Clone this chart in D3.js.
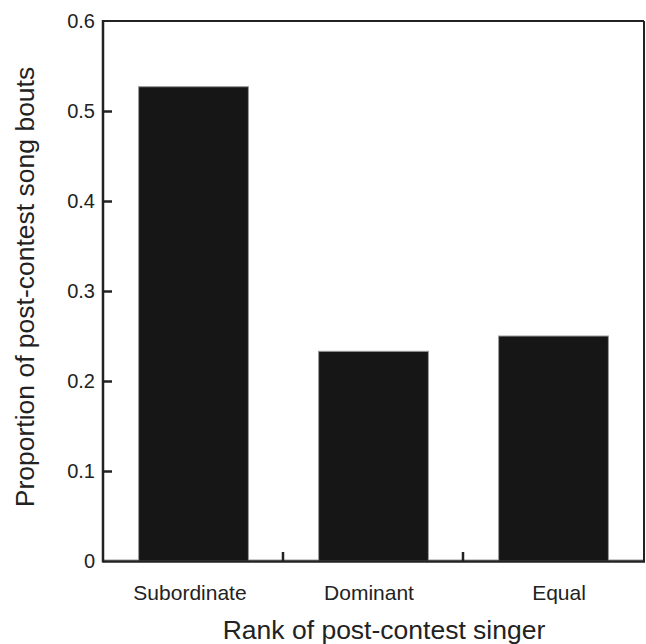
<!DOCTYPE html>
<html lang="en">
	<head>
		<meta charset="utf-8">
		<title>Post-contest song bouts</title>
		<script src="https://d3js.org/d3.v7.min.js"></script>
		<style>
			body { margin: 0; background: #fff; }
			text { font-family: "Liberation Sans", Arial, sans-serif; fill: #222; }
		</style>
	</head>
	<body>
		<script type="text/javascript">

			// data
			var categories = ["Subordinate", "Dominant", "Equal"];
			var proportions = [0.527, 0.233, 0.25];
			var yTicks = [0, 0.1, 0.2, 0.3, 0.4, 0.5, 0.6];

			var w = 646;
			var h = 644;
			// plot area edges (note: "top" is reserved on window)
			var pLeft = 103, pRight = 643, pTop = 21, pBottom = 561;

			var svg = d3.select("body").append("svg").attr("width", w).attr("height", h);

			// scales
			var xScale = d3.scaleBand().domain(categories).range([pLeft, pRight])
				.paddingInner(0.39).paddingOuter(0.195);
			var yScale = d3.scaleLinear().domain([0, 0.6]).range([pBottom, pTop]);

			// frame (top + right)
			svg.append("line").attr("x1", pLeft).attr("x2", pRight + 1).attr("y1", pTop).attr("y2", pTop)
				.attr("stroke", "#222").attr("stroke-width", 2);
			svg.append("line").attr("x1", pRight + 1).attr("x2", pRight + 1).attr("y1", pTop).attr("y2", pBottom)
				.attr("stroke", "#222").attr("stroke-width", 2);

			// faint baseline inside the plot
			svg.append("line").attr("x1", pLeft).attr("x2", pRight).attr("y1", pBottom - 1).attr("y2", pBottom - 1)
				.attr("stroke", "#999").attr("stroke-width", 1);

			// bars
			svg.selectAll("rect.bar").data(categories).enter().append("rect")
				.attr("class", "bar")
				.attr("x", function(d) { return xScale(d) + 0.5; })
				.attr("width", xScale.bandwidth())
				.attr("y", function(d, i) { return yScale(proportions[i]); })
				.attr("height", function(d, i) { return pBottom - yScale(proportions[i]); })
				.attr("fill", "#161616")
				.attr("stroke", "#9a9a9a")
				.attr("stroke-width", 1);

			// y axis
			var yAxis = d3.axisRight(yScale).tickValues(yTicks.slice(1, 6)).tickSize(9).tickFormat("");
			svg.append("g").attr("transform", "translate(" + pLeft + ",0)").call(yAxis)
				.call(function(g) {
					g.select(".domain").remove();
					g.selectAll("line").attr("stroke", "#222").attr("stroke-width", 2.5);
				});
			svg.append("line").attr("x1", pLeft).attr("x2", pLeft).attr("y1", pTop - 1).attr("y2", pBottom + 1.5)
				.attr("stroke", "#222").attr("stroke-width", 2.5);

			svg.selectAll("text.ytick").data(yTicks).enter().append("text")
				.attr("class", "ytick")
				.attr("x", 95)
				.attr("y", function(d) { return yScale(d) + 7; })
				.attr("text-anchor", "end")
				.style("font-size", "20px")
				.text(function(d) { return d === 0 ? "0" : d3.format(".1f")(d); });

			// x axis
			svg.append("line").attr("x1", pLeft).attr("x2", pRight + 2).attr("y1", pBottom + 0.5).attr("y2", pBottom + 0.5)
				.attr("stroke", "#222").attr("stroke-width", 2.5);
			var step = xScale.step();
			svg.selectAll("line.xtick").data(categories.slice(1)).enter().append("line")
				.attr("class", "xtick")
				.attr("x1", function(d) { return xScale(d) - (step - xScale.bandwidth()) / 2; })
				.attr("x2", function(d) { return xScale(d) - (step - xScale.bandwidth()) / 2; })
				.attr("y1", pBottom).attr("y2", pBottom - 9)
				.attr("stroke", "#222").attr("stroke-width", 2.5);

			svg.selectAll("text.xlab").data(categories).enter().append("text")
				.attr("class", "xlab")
				.attr("x", function(d, i) { return xScale(d) + xScale.bandwidth() / 2 + [-3, -4, 6][i]; })
				.attr("y", 600)
				.attr("text-anchor", "middle")
				.style("font-size", "21px")
				.text(function(d) { return d; });

			// axis titles
			svg.append("text").attr("x", 384).attr("y", 639).attr("text-anchor", "middle")
				.style("font-size", "26.5px").text("Rank of post-contest singer");
			svg.append("text").attr("transform", "translate(34,287) rotate(-90)").attr("text-anchor", "middle")
				.style("font-size", "26.5px").text("Proportion of post-contest song bouts");

		</script>
	</body>
</html>
